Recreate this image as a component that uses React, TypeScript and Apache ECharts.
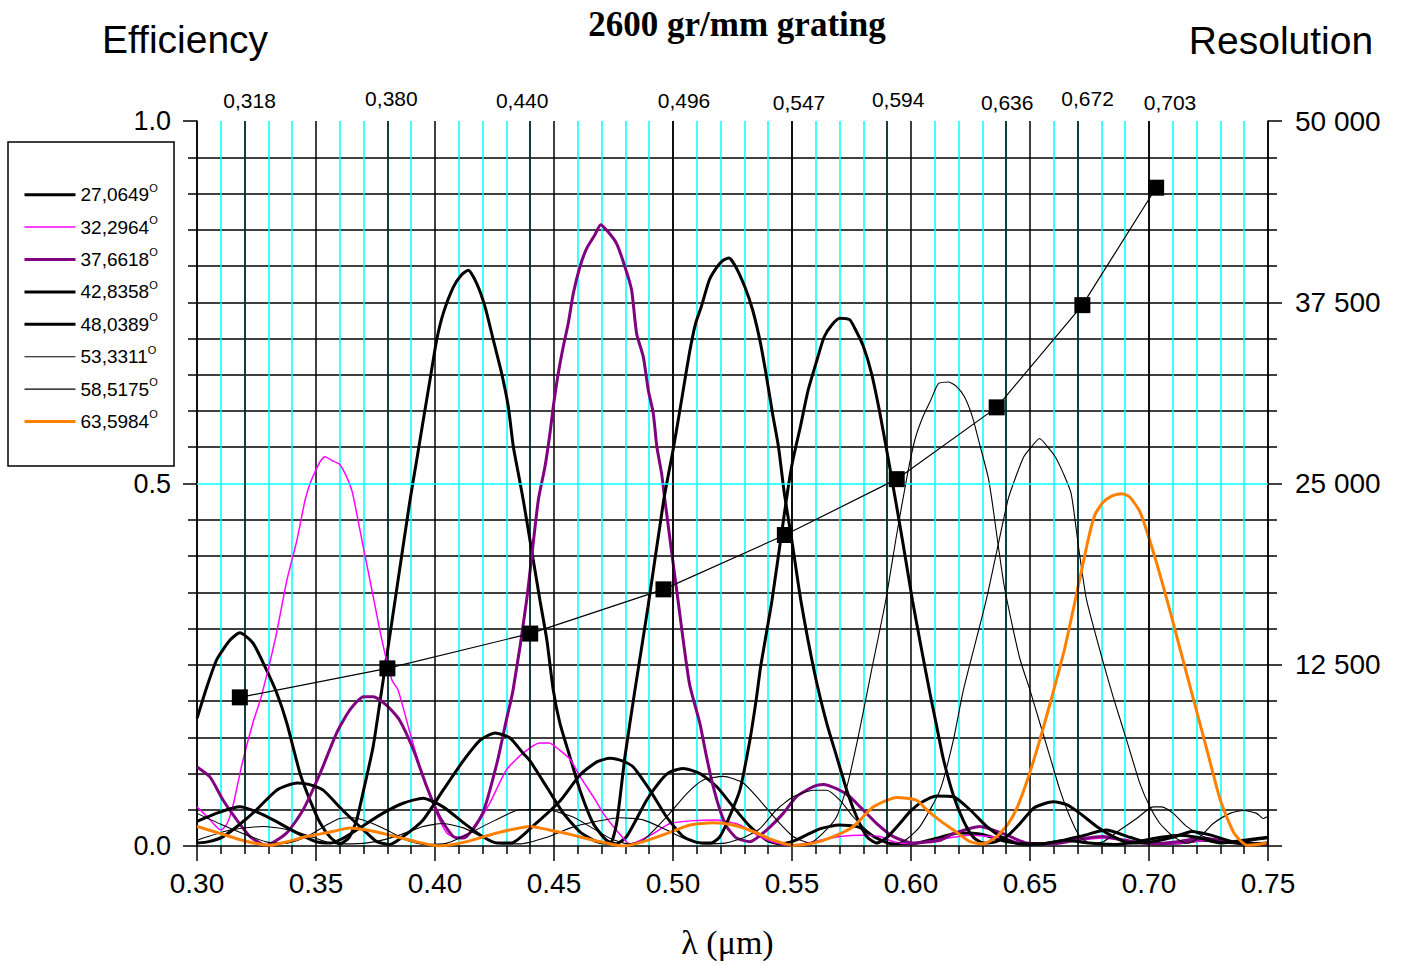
import React, { useEffect, useRef } from "react";
import * as echarts from "echarts";

// ---------- data ----------
const seriesNames = ["27,0649", "32,2964", "37,6618", "42,8358", "48,0389", "53,3311", "58,5175", "63,5984"];

const s27: number[][] = [
  [0.300,0.176],[0.304,0.218],[0.3083,0.257],[0.3139,0.284],[0.318,0.294],[0.3235,0.280],[0.3286,0.247],[0.3335,0.211],
  [0.3377,0.170],[0.3433,0.100],[0.3475,0.063],[0.3517,0.032],[0.356,0.012],[0.360,0.003],[0.364,0.012],[0.367,0.035],
  [0.370,0.077],[0.374,0.137],[0.3776,0.215],[0.3835,0.345],[0.3895,0.477],[0.3923,0.532],[0.3951,0.588],[0.3979,0.643],
  [0.4007,0.698],[0.4035,0.735],[0.4077,0.771],[0.4112,0.788],[0.414,0.794],[0.4175,0.776],[0.421,0.744],[0.4245,0.698],
  [0.428,0.652],[0.4308,0.606],[0.4329,0.551],[0.435,0.514],[0.4371,0.477],[0.4405,0.41],[0.4441,0.339],[0.447,0.284],
  [0.4497,0.215],[0.4525,0.169],[0.4567,0.123],[0.4609,0.077],[0.4665,0.031],[0.472,0.008],[0.476,0.003],[0.4805,0.013],
  [0.4889,0.063],[0.4945,0.089],[0.4987,0.102],[0.5043,0.107],[0.5113,0.100],[0.5183,0.082],[0.5253,0.054],[0.5323,0.027],
  [0.5393,0.008],[0.545,0.003],[0.550,0.006],[0.556,0.015],[0.562,0.024],[0.570,0.029],[0.578,0.026],[0.585,0.012],
  [0.592,0.003],[0.600,0.003],[0.610,0.010],[0.620,0.018],[0.630,0.016],[0.640,0.006],[0.650,0.002],[0.660,0.005],
  [0.672,0.014],[0.682,0.022],[0.692,0.012],[0.702,0.003],[0.712,0.004],[0.722,0.008],[0.732,0.006],[0.742,0.002],[0.750,0.003],
];

const s32: number[][] = [
  [0.300,0.054],[0.305,0.038],[0.310,0.022],[0.3125,0.030],[0.315,0.054],[0.319,0.114],[0.3235,0.170],[0.327,0.206],
  [0.3328,0.284],[0.3378,0.367],[0.342,0.422],[0.3454,0.477],[0.3475,0.500],[0.3496,0.516],[0.3517,0.530],[0.3538,0.537],
  [0.3566,0.532],[0.3601,0.526],[0.3629,0.509],[0.365,0.491],[0.366,0.477],[0.3693,0.422],[0.3735,0.353],[0.3777,0.284],
  [0.3819,0.229],[0.3845,0.215],[0.3895,0.156],[0.395,0.095],[0.4007,0.045],[0.405,0.018],[0.409,0.011],[0.416,0.022],
  [0.423,0.059],[0.430,0.105],[0.437,0.128],[0.444,0.142],[0.448,0.142],[0.4525,0.132],[0.4567,0.120],[0.4609,0.096],
  [0.4665,0.068],[0.4707,0.045],[0.4749,0.027],[0.4805,0.006],[0.482,0.003],[0.4917,0.017],[0.4987,0.031],[0.5085,0.035],
  [0.5183,0.036],[0.5281,0.029],[0.5365,0.013],[0.5435,0.004],[0.5505,0.001],[0.5618,0.008],[0.5702,0.013],[0.5786,0.015],
  [0.587,0.013],[0.5926,0.006],[0.600,0.003],[0.610,0.008],[0.6248,0.015],[0.6388,0.011],[0.648,0.003],[0.660,0.004],
  [0.6808,0.011],[0.695,0.004],[0.710,0.003],[0.725,0.008],[0.740,0.005],[0.750,0.004],
];

const s37: number[][] = [
  [0.300,0.109],[0.3055,0.095],[0.311,0.063],[0.3167,0.036],[0.3223,0.013],[0.329,0.001],[0.3377,0.018],[0.3446,0.050],
  [0.3517,0.100],[0.3587,0.156],[0.3643,0.188],[0.370,0.206],[0.374,0.206],[0.3797,0.194],[0.385,0.174],[0.391,0.132],
  [0.3965,0.082],[0.402,0.040],[0.4077,0.013],[0.412,0.011],[0.420,0.045],[0.426,0.114],[0.430,0.174],[0.4328,0.215],
  [0.4385,0.339],[0.4434,0.477],[0.4462,0.523],[0.4483,0.569],[0.4497,0.606],[0.4518,0.652],[0.4539,0.689],[0.456,0.721],
  [0.4581,0.762],[0.4609,0.799],[0.4637,0.824],[0.4672,0.843],[0.4696,0.857],[0.4728,0.847],[0.4763,0.831],[0.4798,0.799],
  [0.4826,0.767],[0.4847,0.707],[0.4875,0.675],[0.4896,0.629],[0.4917,0.597],[0.4932,0.551],[0.4952,0.514],[0.4966,0.477],
  [0.5021,0.339],[0.5069,0.224],[0.5113,0.169],[0.5141,0.123],[0.5169,0.082],[0.5197,0.050],[0.5225,0.027],[0.5267,0.011],
  [0.5323,0.006],[0.5393,0.022],[0.5463,0.045],[0.5519,0.068],[0.5589,0.082],[0.5631,0.085],[0.5687,0.079],[0.5743,0.068],
  [0.5786,0.054],[0.5856,0.031],[0.5926,0.013],[0.601,0.004],[0.6122,0.008],[0.6178,0.017],[0.629,0.027],[0.6388,0.017],
  [0.6486,0.004],[0.660,0.003],[0.672,0.010],[0.6808,0.013],[0.690,0.008],[0.700,0.003],[0.712,0.006],[0.7228,0.011],
  [0.735,0.005],[0.750,0.003],
];

const s42: number[][] = [
  [0.300,0.004],[0.305,0.006],[0.311,0.013],[0.318,0.030],[0.325,0.050],[0.3335,0.077],[0.342,0.087],[0.347,0.085],
  [0.353,0.077],[0.361,0.050],[0.370,0.022],[0.3755,0.006],[0.381,0.002],[0.3866,0.013],[0.395,0.036],[0.4034,0.077],
  [0.412,0.118],[0.419,0.146],[0.4252,0.156],[0.4315,0.149],[0.437,0.128],[0.440,0.117],[0.447,0.081],[0.454,0.045],
  [0.461,0.019],[0.468,0.006],[0.4735,0.003],[0.4763,0.031],[0.4798,0.123],[0.484,0.215],[0.4895,0.330],[0.4961,0.477],
  [0.5003,0.551],[0.5036,0.615],[0.5069,0.680],[0.5095,0.721],[0.5119,0.744],[0.5153,0.781],[0.5186,0.799],[0.5211,0.808],
  [0.5235,0.811],[0.526,0.801],[0.5302,0.771],[0.5335,0.739],[0.5368,0.693],[0.5393,0.647],[0.5418,0.597],[0.5443,0.551],
  [0.5468,0.486],[0.550,0.420],[0.5537,0.339],[0.5594,0.240],[0.5646,0.169],[0.5688,0.123],[0.573,0.077],[0.5772,0.040],
  [0.5814,0.013],[0.5856,0.004],[0.590,0.012],[0.595,0.030],[0.5995,0.047],[0.6038,0.059],[0.6108,0.069],[0.6178,0.068],
  [0.6248,0.050],[0.6318,0.027],[0.6388,0.011],[0.6458,0.003],[0.655,0.003],[0.665,0.008],[0.675,0.004],[0.685,0.002],
  [0.695,0.006],[0.705,0.012],[0.713,0.015],[0.720,0.012],[0.730,0.004],[0.740,0.008],[0.750,0.012],
];

const s48: number[][] = [
  [0.300,0.034],[0.309,0.046],[0.318,0.054],[0.325,0.047],[0.332,0.036],[0.342,0.018],[0.350,0.006],[0.356,0.004],
  [0.361,0.010],[0.367,0.022],[0.378,0.045],[0.3866,0.059],[0.395,0.066],[0.4034,0.054],[0.412,0.032],[0.420,0.013],
  [0.426,0.004],[0.432,0.004],[0.441,0.027],[0.4525,0.062],[0.4609,0.098],[0.468,0.116],[0.4735,0.121],[0.479,0.117],
  [0.4833,0.109],[0.4903,0.077],[0.4973,0.040],[0.5043,0.013],[0.510,0.005],[0.516,0.004],[0.5195,0.012],[0.5225,0.031],
  [0.5281,0.077],[0.5323,0.146],[0.5351,0.205],[0.5368,0.247],[0.5416,0.339],[0.5476,0.477],[0.5501,0.528],[0.5535,0.578],
  [0.5568,0.629],[0.5601,0.666],[0.5635,0.702],[0.5668,0.719],[0.5701,0.728],[0.5742,0.726],[0.5767,0.712],[0.580,0.689],
  [0.5834,0.652],[0.5867,0.601],[0.590,0.542],[0.5925,0.496],[0.5965,0.420],[0.6006,0.339],[0.6045,0.270],[0.608,0.210],
  [0.6108,0.165],[0.6136,0.120],[0.6178,0.070],[0.622,0.035],[0.6262,0.012],[0.6304,0.004],[0.6346,0.005],[0.6402,0.013],
  [0.6458,0.031],[0.6514,0.052],[0.6556,0.058],[0.6598,0.061],[0.6654,0.057],[0.671,0.045],[0.678,0.027],[0.685,0.013],
  [0.692,0.004],[0.700,0.005],[0.710,0.012],[0.718,0.020],[0.726,0.015],[0.735,0.006],[0.745,0.003],[0.750,0.004],
];

const s53: number[][] = [
  [0.300,0.045],[0.310,0.030],[0.321,0.015],[0.330,0.005],[0.338,0.004],[0.344,0.010],[0.3489,0.018],[0.355,0.030],
  [0.360,0.038],[0.3657,0.039],[0.3713,0.034],[0.3797,0.022],[0.388,0.008],[0.396,0.002],[0.405,0.004],[0.4147,0.018],
  [0.425,0.035],[0.4357,0.050],[0.4469,0.050],[0.458,0.040],[0.466,0.025],[0.474,0.010],[0.481,0.003],[0.4875,0.008],
  [0.4973,0.040],[0.5057,0.072],[0.5127,0.091],[0.5211,0.096],[0.5295,0.087],[0.5365,0.063],[0.5435,0.036],[0.5505,0.013],
  [0.5575,0.004],[0.5631,0.018],[0.5687,0.040],[0.5734,0.086],[0.5781,0.155],[0.5837,0.247],[0.5894,0.339],[0.594,0.430],
  [0.5983,0.509],[0.6016,0.560],[0.605,0.592],[0.6083,0.615],[0.6116,0.638],[0.6158,0.640],[0.6191,0.634],[0.6224,0.620],
  [0.6258,0.592],[0.6291,0.551],[0.6324,0.509],[0.634,0.477],[0.6391,0.360],[0.6456,0.260],[0.650,0.215],[0.6542,0.169],
  [0.6584,0.123],[0.6626,0.077],[0.6668,0.040],[0.671,0.013],[0.6752,0.004],[0.6808,0.006],[0.6878,0.022],[0.6948,0.038],
  [0.7018,0.054],[0.7053,0.054],[0.7102,0.045],[0.7158,0.027],[0.7228,0.013],[0.7298,0.006],[0.737,0.004],[0.745,0.008],[0.750,0.010],
];

const s58: number[][] = [
  [0.300,0.008],[0.3139,0.022],[0.3277,0.027],[0.339,0.022],[0.3487,0.012],[0.356,0.004],[0.365,0.003],[0.375,0.006],
  [0.385,0.015],[0.395,0.027],[0.4034,0.031],[0.412,0.025],[0.420,0.012],[0.428,0.003],[0.436,0.003],[0.447,0.012],
  [0.457,0.025],[0.4665,0.033],[0.4777,0.039],[0.4875,0.036],[0.4973,0.022],[0.505,0.010],[0.512,0.003],[0.522,0.004],
  [0.530,0.012],[0.5365,0.024],[0.5435,0.050],[0.5505,0.068],[0.5589,0.077],[0.5646,0.077],[0.5702,0.063],[0.5758,0.040],
  [0.5814,0.022],[0.587,0.008],[0.593,0.003],[0.598,0.009],[0.6038,0.027],[0.6122,0.077],[0.6178,0.146],[0.622,0.215],
  [0.6316,0.339],[0.6407,0.477],[0.644,0.509],[0.6474,0.537],[0.6507,0.551],[0.654,0.562],[0.6573,0.551],[0.6606,0.537],
  [0.664,0.514],[0.6673,0.486],[0.6705,0.410],[0.6738,0.339],[0.6813,0.247],[0.685,0.205],[0.6906,0.146],[0.6962,0.086],
  [0.7004,0.054],[0.7046,0.031],[0.7102,0.013],[0.7158,0.004],[0.719,0.007],[0.7228,0.017],[0.727,0.031],[0.734,0.045],
  [0.7396,0.049],[0.7452,0.045],[0.748,0.038],[0.750,0.041],
];

const s63: number[][] = [
  [0.300,0.027],[0.310,0.017],[0.320,0.007],[0.3307,0.001],[0.338,0.006],[0.346,0.013],[0.357,0.020],[0.364,0.025],
  [0.3713,0.022],[0.381,0.015],[0.392,0.006],[0.402,0.000],[0.4133,0.006],[0.426,0.018],[0.440,0.027],[0.451,0.020],
  [0.4567,0.016],[0.4665,0.008],[0.4791,0.000],[0.4875,0.006],[0.4973,0.017],[0.5071,0.029],[0.5169,0.032],[0.5253,0.029],
  [0.5337,0.020],[0.5421,0.008],[0.5505,0.001],[0.5589,0.004],[0.5674,0.013],[0.5758,0.027],[0.5842,0.054],[0.594,0.067],
  [0.6024,0.063],[0.6066,0.050],[0.6122,0.035],[0.6178,0.022],[0.6248,0.006],[0.6304,0.003],[0.636,0.013],[0.6409,0.031],
  [0.6447,0.054],[0.6494,0.096],[0.6541,0.146],[0.6588,0.201],[0.6644,0.270],[0.669,0.339],[0.6744,0.422],[0.6773,0.457],
  [0.6807,0.474],[0.6845,0.483],[0.6887,0.486],[0.692,0.481],[0.6962,0.461],[0.6996,0.429],[0.7034,0.388],[0.7076,0.339],
  [0.7132,0.270],[0.7188,0.201],[0.7244,0.132],[0.730,0.063],[0.7357,0.018],[0.7412,0.001],[0.7454,0.002],[0.7494,0.004],
];

const markerLambda = [0.318, 0.380, 0.440, 0.496, 0.547, 0.594, 0.636, 0.672, 0.703];
const markerLabels = ["0,318", "0,380", "0,440", "0,496", "0,547", "0,594", "0,636", "0,672", "0,703"];
const resolution = [10250, 12250, 14650, 17700, 21450, 25300, 30250, 37300, 45400];

// ---------- styles / layout ----------
const FONT = "'Liberation Sans', Arial, Helvetica, sans-serif";
const SERIF = "'Liberation Serif', 'Times New Roman', serif";
const CYAN = "#00FFFF";
const seriesStyles = [
  { color: "#000000", width: 3 },
  { color: "#FF00FF", width: 1.5 },
  { color: "#800080", width: 3 },
  { color: "#000000", width: 3 },
  { color: "#000000", width: 3 },
  { color: "#000000", width: 1.1 },
  { color: "#000000", width: 1.1 },
  { color: "#FF8000", width: 3 },
];
const topLabelDx = [5, 4, -8, 11, 7, 11, 1, 10, 21];
const topLabelDy = [0, -2, -0.5, -0.5, 2, -1, 2, -2, 2];

const allSeriesData = [s27, s32, s37, s42, s48, s53, s58, s63];

function fmtSpace(v: number): string {
  return String(Math.round(v)).replace(/\B(?=(\d{3})+(?!\d))/g, " ");
}

export default function App() {
  const ref = useRef<HTMLDivElement>(null);

  useEffect(() => {
    if (!ref.current) return;
    const chart = echarts.init(ref.current, null, { renderer: "svg" });

    const curveSeries = allSeriesData.map((d, i) => ({
      type: "line",
      name: seriesNames[i],
      data: d,
      xAxisIndex: 0,
      yAxisIndex: 0,
      symbol: "none",
      showSymbol: false,
      smooth: 0.2,
      lineStyle: { color: seriesStyles[i].color, width: seriesStyles[i].width },
      itemStyle: { color: seriesStyles[i].color },
      z: 3,
      silent: true,
    }));

    const vLines = markerLambda.map((l, i) => {
      const dx = topLabelDx[i];
      return {
        xAxis: l,
        name: markerLabels[i],
        label: {
          distance: 10 - topLabelDy[i],
          padding: dx >= 0 ? [0, 0, 0, 2 * dx] : [0, -2 * dx, 0, 0],
        },
      };
    });

    const option: any = {
      animation: false,
      backgroundColor: "#ffffff",
      title: {
        text: "2600 gr/mm grating",
        left: 737,
        top: 7,
        padding: 0,
        textAlign: "center",
        textStyle: { fontFamily: SERIF, fontWeight: "bold", fontSize: 35, color: "#000" },
      },
      grid: { left: 197, right: 136, top: 121, bottom: 119, containLabel: false },
      legend: {
        data: seriesNames.map((n, i) => ({
          name: n,
          lineStyle: { width: seriesStyles[i].width, color: seriesStyles[i].color },
        })),
        orient: "vertical",
        left: 23,
        top: 180,
        padding: 0,
        itemWidth: 51,
        itemHeight: 14,
        itemGap: 8.2,
        selectedMode: false,
        itemStyle: { opacity: 0, borderWidth: 0 },
        lineStyle: { width: "inherit" },
        formatter: (name: string) => `{n|${name}}{s|O}`,
        textStyle: {
          color: "#000",
          fontFamily: FONT,
          rich: {
            n: { fontSize: 19, lineHeight: 29.4, fontFamily: FONT, color: "#000" },
            s: { fontSize: 11, lineHeight: 11, verticalAlign: "top", padding: [2, 0, 0, 0], fontFamily: FONT, color: "#000" },
          },
        },
      },
      graphic: [
        {
          type: "rect",
          shape: { x: 8, y: 142, width: 166, height: 324 },
          style: { fill: "none", stroke: "#000", lineWidth: 1.5 },
          silent: true,
        },
      ],
      xAxis: [
        {
          type: "value",
          min: 0.3,
          max: 0.75,
          interval: 0.05,
          axisLine: { show: true, onZero: false, lineStyle: { color: "#000", width: 1.5 } },
          axisTick: { show: true, length: 15, lineStyle: { color: "#000", width: 1.5 } },
          minorTick: { show: true, splitNumber: 5, length: 8, lineStyle: { color: "#000", width: 1.5 } },
          splitLine: { show: true, lineStyle: { color: "#000", width: 1.5 } },
          minorSplitLine: { show: true, lineStyle: { color: CYAN, width: 1.5 } },
          axisLabel: {
            formatter: (v: number) => v.toFixed(2),
            fontSize: 28,
            fontFamily: FONT,
            color: "#000",
            margin: 23,
          },
          name: "λ (μm)",
          nameLocation: "middle",
          nameGap: 96,
          nameTextStyle: {
            fontFamily: SERIF,
            fontSize: 34,
            color: "#000",
            verticalAlign: "middle",
            padding: [0, 10, 0, 0],
          },
        },
      ],
      yAxis: [
        {
          type: "value",
          position: "left",
          min: 0,
          max: 1,
          interval: 0.5,
          axisLine: { show: true, onZero: false, lineStyle: { color: "#000", width: 1.5 } },
          axisTick: { show: true, length: 14, lineStyle: { color: "#000", width: 1.5 } },
          minorTick: { show: true, splitNumber: 10, length: 9, lineStyle: { color: "#000", width: 1.5 } },
          splitLine: { show: false },
          minorSplitLine: { show: true, lineStyle: { color: "#000", width: 1.5 } },
          axisLabel: {
            formatter: (v: number) => v.toFixed(1),
            fontSize: 27,
            fontFamily: FONT,
            color: "#000",
            margin: 26,
          },
          name: "Efficiency",
          nameLocation: "end",
          nameGap: 82,
          nameTextStyle: {
            fontFamily: FONT,
            fontSize: 39,
            color: "#000",
            align: "center",
            verticalAlign: "middle",
            padding: [0, 24, 0, 0],
          },
        },
        {
          type: "value",
          position: "right",
          min: 0,
          max: 50000,
          interval: 12500,
          axisLine: { show: true, onZero: false, lineStyle: { color: "#000", width: 1.5 } },
          axisTick: { show: true, length: 14, lineStyle: { color: "#000", width: 1.5 } },
          minorTick: { show: true, splitNumber: 5, length: 9, lineStyle: { color: "#000", width: 1.5 } },
          splitLine: { show: false },
          minorSplitLine: { show: false },
          axisLabel: {
            formatter: (v: number) => (v === 0 ? "" : fmtSpace(v)),
            fontSize: 28,
            fontFamily: FONT,
            color: "#000",
            margin: 27,
          },
          name: "Resolution",
          nameLocation: "end",
          nameGap: 81,
          nameTextStyle: {
            fontFamily: FONT,
            fontSize: 39,
            color: "#000",
            align: "center",
            verticalAlign: "middle",
            padding: [0, 0, 0, 26],
          },
        },
      ],
      series: [
        {
          type: "line",
          name: "grid-lines",
          data: [],
          xAxisIndex: 0,
          yAxisIndex: 0,
          z: 1,
          silent: true,
          markLine: {
            silent: true,
            symbol: ["none", "none"],
            animation: false,
            lineStyle: { color: "#000", width: 1.5, type: "solid" },
            label: {
              show: true,
              position: "end",
              formatter: "{b}",
              fontSize: 21,
              fontFamily: FONT,
              color: "#000",
            },
            emphasis: { disabled: true },
            data: [
              { yAxis: 0.5, lineStyle: { color: CYAN, width: 1.5, type: "solid" }, label: { show: false } },
              ...vLines,
            ],
          },
        },
        ...curveSeries,
        {
          type: "line",
          name: "Resolution",
          data: markerLambda.map((l, i) => [l, resolution[i]]),
          xAxisIndex: 0,
          yAxisIndex: 1,
          symbol: "rect",
          symbolSize: 16,
          showAllSymbol: true,
          lineStyle: { color: "#000", width: 1.2 },
          itemStyle: { color: "#000" },
          z: 6,
          silent: true,
        },
      ],
    };

    chart.setOption(option);
    return () => chart.dispose();
  }, []);

  return (
    <div
      ref={ref}
      style={{ position: "fixed", left: 0, top: 0, width: 1404, height: 965, background: "#fff" }}
    />
  );
}
